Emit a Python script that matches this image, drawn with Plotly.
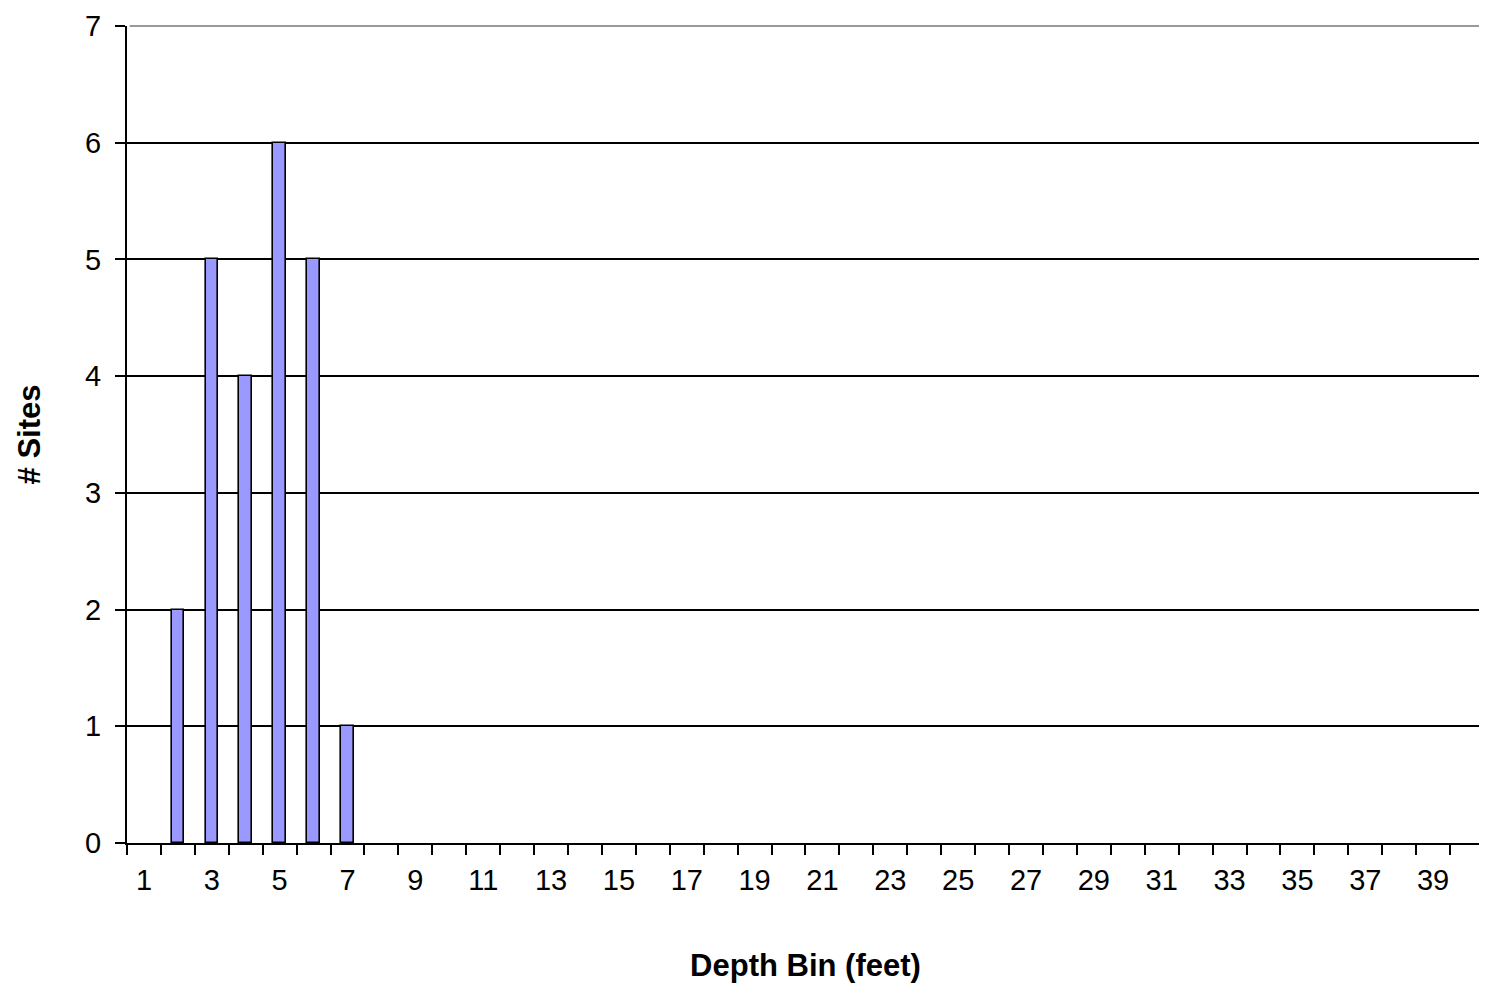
import plotly.graph_objects as go

depth_bins = list(range(1, 41))
site_counts = [0, 2, 5, 4, 6, 5, 1] + [0] * 33
x_tick_labels = [str(v) for v in range(1, 41, 2)]
y_ticks = list(range(0, 8))

FONT = "Liberation Sans, Arial, sans-serif"

fig = go.Figure()
fig.add_trace(go.Bar(
    x=depth_bins, y=site_counts, width=0.37,
    marker=dict(color="#9999FF",
                line=dict(color="#000000", width=[1.6 if v > 0 else 0 for v in site_counts])),
    showlegend=False,
))

fig.update_layout(
    width=1479, height=975,
    margin=dict(l=119, r=3, t=18, b=140, autoexpand=False),
    paper_bgcolor="white", plot_bgcolor="white",
    font=dict(family=FONT, color="black", size=30),
    bargap=0,
    xaxis=dict(
        range=[0.5, 40.5005], tickmode="array",
        tickvals=list(range(1, 41, 2)), ticktext=x_tick_labels,
        ticks="", showgrid=False, zeroline=False, automargin=False,
        showline=True, linecolor="black", linewidth=2,
        ticklabelstandoff=10,
        minor=dict(tickmode="linear", tick0=0.5, dtick=1, ticks="outside",
                   ticklen=10, tickwidth=2, tickcolor="black", showgrid=False),
        tickfont=dict(size=29, family=FONT),
        title=dict(text="<b>Depth Bin (feet)</b>", font=dict(size=31, family=FONT), standoff=60),
    ),
    yaxis=dict(
        range=[0, 7], tickmode="array", tickvals=y_ticks,
        ticks="outside", ticklen=10, tickwidth=2, tickcolor="black",
        showgrid=True, gridcolor="black", gridwidth=2, zeroline=False, automargin=False,
        showline=True, linecolor="black", linewidth=2,
        ticklabelstandoff=8,
        tickfont=dict(size=29, family=FONT),
        title=dict(text="<b># Sites</b>", font=dict(size=31, family=FONT), standoff=35),
    ),
    shapes=[
        dict(type="line", xref="paper", yref="paper", x0=0.002, x1=1, y0=1, y1=1,
             line=dict(color="#9a9a9a", width=2), layer="above"),
        dict(type="line", xref="paper", yref="paper", x0=1, x1=1, y0=0, y1=1,
             line=dict(color="#9a9a9a", width=2), layer="above"),
    ],
)

fig.write_html("out.html")
